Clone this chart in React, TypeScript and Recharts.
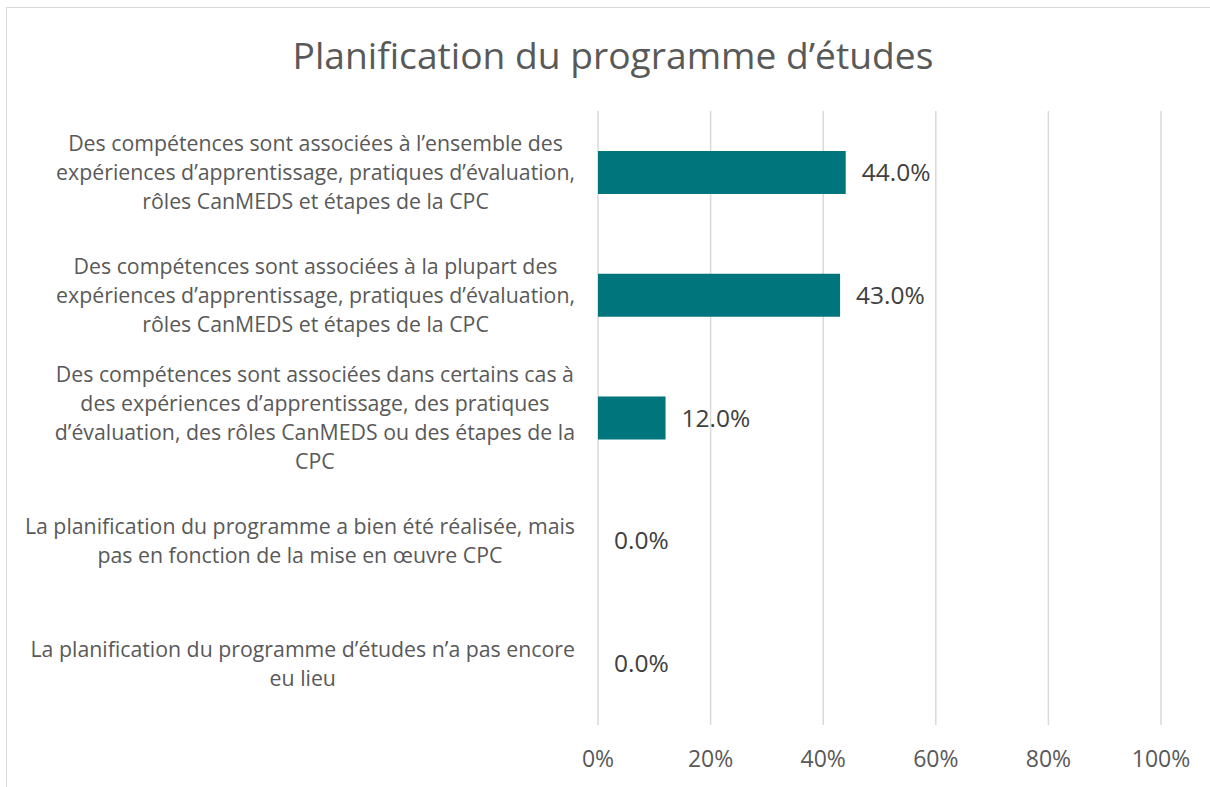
import React from 'react';
import { ComposedChart, Bar, Line, XAxis, YAxis, CartesianGrid, LabelList } from 'recharts';

const categories: string[] = [
  "Des compétences sont associées à l’ensemble des\nexpériences d’apprentissage, pratiques d’évaluation,\nrôles CanMEDS et étapes de la CPC",
  "Des compétences sont associées à la plupart des\nexpériences d’apprentissage, pratiques d’évaluation,\nrôles CanMEDS et étapes de la CPC",
  "Des compétences sont associées dans certains cas à\ndes expériences d’apprentissage, des pratiques\nd’évaluation, des rôles CanMEDS ou des étapes de la\nCPC",
  "La planification du programme a bien été réalisée, mais\npas en fonction de la mise en œuvre CPC",
  "La planification du programme d’études n’a pas encore\neu lieu",
];
const values: number[] = [44.0, 43.0, 12.0, 0.0, 0.0];
const xTicks: number[] = [0, 20, 40, 60, 80, 100];
const title = "Planification du programme d’études";

const data = categories.map((c, i) => ({ name: c, value: values[i] }));

const FONT = '"Open Sans", sans-serif';
const CAT_SIZE = 21.3;

let ctx: CanvasRenderingContext2D | null = null;
const measure = (s: string): number => {
  if (typeof document === 'undefined') return s.length * CAT_SIZE * 0.5;
  if (!ctx) ctx = document.createElement('canvas').getContext('2d');
  if (!ctx) return s.length * CAT_SIZE * 0.5;
  ctx.font = `${CAT_SIZE}px "Open Sans"`;
  return ctx.measureText(s).width;
};

const CategoryTick = (props: any) => {
  const { x, y, payload } = props;
  const lines: string[] = String(payload.value).split('\n');
  const lh = 29;
  const startY = y - ((lines.length - 1) * lh) / 2;
  const rightEdge = x - 15;
  const maxW = Math.max(...lines.map(measure));
  const cx = Math.min(x - 274, rightEdge - maxW / 2);
  return (
    <text x={cx} y={startY} textAnchor="middle" fill="#595959" fontSize={CAT_SIZE} fontFamily={FONT}>
      {lines.map((l, i) => (
        <tspan key={i} x={cx} y={startY + i * lh} dy="0.35em">{l}</tspan>
      ))}
    </text>
  );
};

const PointLabel = (props: any) => {
  const { x, y, value } = props;
  return (
    <text
      x={Number(x) + 16}
      y={Number(y)}
      dy="0.35em"
      textAnchor="start"
      fill="#404040"
      fontSize={24.5}
      fontFamily={FONT}
    >
      {`${Number(value).toFixed(1)}%`}
    </text>
  );
};

export default function App() {
  return (
    <div style={{ position: 'fixed', left: 0, top: 0, width: 1210, height: 787, overflow: 'hidden', background: '#fff' }}>
      <div style={{ position: 'absolute', left: 6, top: 7, width: 1220, height: 800, border: '1px solid #d9d9d9', boxSizing: 'border-box' }} />
      <div style={{ position: 'absolute', left: 0, top: 31, width: 1226, textAlign: 'center', fontFamily: FONT, fontSize: 37.2, color: '#595959', lineHeight: '48px' }}>
        {title}
      </div>
      <div style={{ position: 'absolute', left: 0, top: 0 }}>
        <ComposedChart
          width={1210}
          height={787}
          data={data}
          layout="vertical"
          barCategoryGap="32.5%"
          margin={{ top: 111, right: 49, bottom: 32, left: 8 }}
        >
          <CartesianGrid horizontal={false} vertical={true} stroke="#d9d9d9" strokeWidth={1.5} />
          <XAxis
            type="number"
            domain={[0, 100]}
            ticks={xTicks}
            tickFormatter={(v: number) => `${v}%`}
            axisLine={false}
            tickLine={false}
            tickMargin={20}
            height={30}
            interval={0}
            tick={{ fill: '#595959', fontSize: 23, fontFamily: FONT }}
          />
          <YAxis
            type="category"
            dataKey="name"
            width={590}
            axisLine={false}
            tickLine={false}
            interval={0}
            tick={<CategoryTick />}
          />
          <Bar dataKey="value" fill="#00757c" isAnimationActive={false} />
          <Line
            dataKey="value"
            stroke="none"
            dot={false}
            activeDot={false}
            legendType="none"
            isAnimationActive={false}
          >
            <LabelList dataKey="value" content={<PointLabel />} />
          </Line>
        </ComposedChart>
      </div>
    </div>
  );
}
